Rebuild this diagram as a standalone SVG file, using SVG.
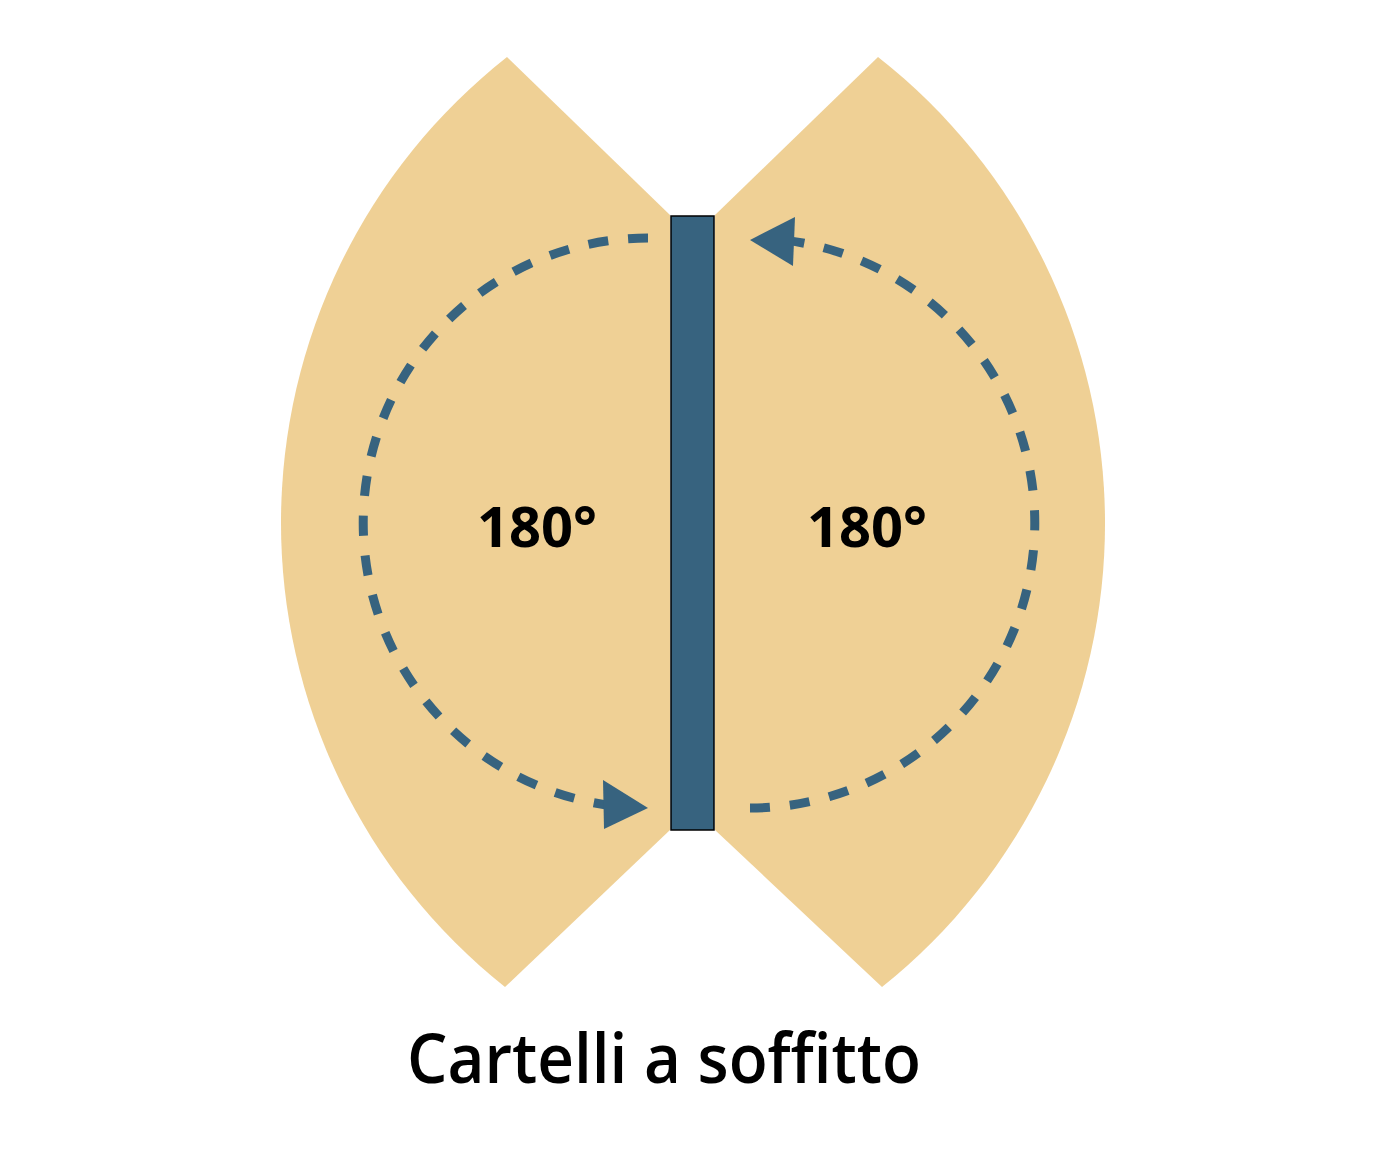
<svg xmlns="http://www.w3.org/2000/svg" width="1386" height="1166" viewBox="0 0 1386 1166">
<style>
.sector{fill:#EFD095;stroke:none}
.bar{fill:#37637F;stroke:#000;stroke-width:1.5}
.dash{fill:none;stroke:#37637F;stroke-width:9;stroke-dasharray:20 20}
.head{fill:#37637F}
.lbl{font-family:"Open Sans","Noto Sans",sans-serif;font-weight:700;fill:#000}
.title{font-family:"Open Sans","Noto Sans",sans-serif;font-weight:600;fill:#000}
</style>
<rect width="1386" height="1166" fill="#fff"/>
<g id="left-sector">
<path class="sector" d="M507 57 L670 215 L670 830 L505 987 A593 593 0 0 1 507 57 Z"/>
</g>
<g id="right-sector">
<path class="sector" d="M878 57 L715 215 L715 830 L882 987 A593 593 0 0 0 878 57 Z"/>
</g>
<g id="bar">
<rect class="bar" x="671" y="216" width="43" height="614"/>
</g>
<g id="connectors">
<path class="dash" d="M648 238 A285 285 0 0 0 620 806.6"/>
<polygon class="head" points="648,808 603,780 604,829"/>
<path class="dash" d="M750 808 A285 285 0 0 0 778 239.4"/>
<polygon class="head" points="750,240 795,217 793,266"/>
</g>
<g id="label-left">
<text class="lbl" x="537" y="547" font-size="56" text-anchor="middle">180°</text>
</g>
<g id="label-right">
<text class="lbl" x="867" y="547" font-size="56" text-anchor="middle">180°</text>
</g>
<g id="title">
<text class="title" x="407" y="1083" font-size="68" textLength="514" lengthAdjust="spacingAndGlyphs">Cartelli a soffitto</text>
</g>
</svg>
